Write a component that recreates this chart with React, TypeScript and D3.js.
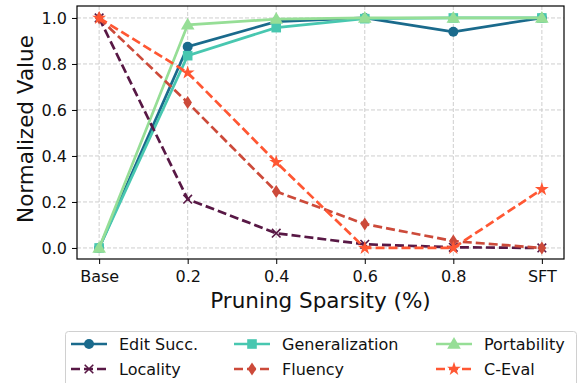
import React, { useEffect, useRef } from 'react';
import * as d3 from 'd3';

const categories = ['Base', '0.2', '0.4', '0.6', '0.8', 'SFT'];
const yTicks = [0, 0.2, 0.4, 0.6, 0.8, 1.0];

const editSucc = [0.0, 0.875, 0.984, 1.0, 0.94, 1.0];
const generalization = [0.0, 0.836, 0.958, 0.997, 1.0, 1.0];
const portability = [0.0, 0.97, 0.995, 1.0, 1.0, 1.0];
const locality = [1.0, 0.212, 0.064, 0.016, 0.003, 0.0];
const fluency = [1.0, 0.632, 0.245, 0.104, 0.03, 0.0];
const cEval = [1.0, 0.762, 0.373, 0.0, 0.0, 0.255];

type Series = { name: string; values: number[]; color: string; marker: string; dashed: boolean };

const series: Series[] = [
  { name: 'Edit Succ.', values: editSucc, color: '#1a6a8c', marker: 'circle', dashed: false },
  { name: 'Generalization', values: generalization, color: '#48c7b0', marker: 'square', dashed: false },
  { name: 'Portability', values: portability, color: '#96de96', marker: 'triangle', dashed: false },
  { name: 'Locality', values: locality, color: '#581845', marker: 'x', dashed: true },
  { name: 'Fluency', values: fluency, color: '#cc4a3a', marker: 'diamond', dashed: true },
  { name: 'C-Eval', values: cEval, color: '#ff5733', marker: 'star', dashed: true },
];

function drawMarker(g: any, type: string, x: number, y: number, color: string) {
  if (type === 'circle') {
    g.append('circle').attr('cx', x).attr('cy', y).attr('r', 5).attr('fill', color);
  } else if (type === 'square') {
    g.append('rect').attr('x', x - 4.8).attr('y', y - 4.8).attr('width', 9.6).attr('height', 9.6).attr('fill', color);
  } else if (type === 'triangle') {
    g.append('path').attr('d', d3.symbol(d3.symbolTriangle, 80)()).attr('transform', `translate(${x},${y + 0.8})`).attr('fill', color);
  } else if (type === 'diamond') {
    g.append('path').attr('d', `M${x},${y - 6.5}L${x + 4.3},${y}L${x},${y + 6.5}L${x - 4.3},${y}Z`).attr('fill', color);
  } else if (type === 'star') {
    g.append('path').attr('d', d3.symbol(d3.symbolStar, 60)()).attr('transform', `translate(${x},${y})`).attr('fill', color);
  } else if (type === 'x') {
    g.append('path').attr('d', `M${x - 4.3},${y - 4.3}L${x + 4.3},${y + 4.3}M${x - 4.3},${y + 4.3}L${x + 4.3},${y - 4.3}`)
      .attr('stroke', color).attr('stroke-width', 1.6).attr('fill', 'none');
  }
}

export default function App() {
  const svgRef = useRef<SVGSVGElement>(null);

  useEffect(() => {
    const svg = d3.select(svgRef.current);
    svg.selectAll('*').remove();

    const left = 77, right = 564, top = 6, bottom = 259;
    const font = 'DejaVu Sans';

    const xScale = d3.scaleLinear().domain([-0.25, 5.25]).range([left, right]);
    const yScale = d3.scaleLinear().domain([-0.048, 1.052]).range([bottom, top]);

    // grid
    const grid = svg.append('g');
    categories.forEach((_, i) => {
      grid.append('line').attr('x1', xScale(i)).attr('x2', xScale(i)).attr('y1', top).attr('y2', bottom)
        .attr('stroke', '#c8c8c8').attr('stroke-width', 0.9).attr('stroke-dasharray', '4,2');
    });
    yTicks.forEach(t => {
      grid.append('line').attr('x1', left).attr('x2', right).attr('y1', yScale(t)).attr('y2', yScale(t))
        .attr('stroke', '#c8c8c8').attr('stroke-width', 0.9).attr('stroke-dasharray', '4,2');
    });

    // lines
    const line = d3.line<number>().x((_, i) => xScale(i)).y(d => yScale(d));
    series.forEach(s => {
      svg.append('path').datum(s.values).attr('d', line).attr('fill', 'none')
        .attr('stroke', s.color).attr('stroke-width', 2.7)
        .attr('stroke-dasharray', s.dashed ? '9,4' : null);
      const mg = svg.append('g');
      s.values.forEach((v, i) => drawMarker(mg, s.marker, xScale(i), yScale(v), s.color));
    });

    // frame
    svg.append('rect').attr('x', left).attr('y', top).attr('width', right - left).attr('height', bottom - top)
      .attr('fill', 'none').attr('stroke', '#000').attr('stroke-width', 1.2);

    // x axis
    const xAxis = svg.append('g').attr('transform', `translate(0,${bottom})`)
      .call(d3.axisBottom(xScale).tickValues(d3.range(categories.length)).tickFormat((d: any) => categories[d]).tickSize(5).tickPadding(7));
    xAxis.select('.domain').remove();
    xAxis.selectAll('text').attr('font-size', 16).attr('fill', '#111').attr('font-family', font);

    // y axis
    const yAxis = svg.append('g').attr('transform', `translate(${left},0)`)
      .call(d3.axisLeft(yScale).tickValues(yTicks).tickFormat(d3.format('.1f')).tickSize(5).tickPadding(5));
    yAxis.select('.domain').remove();
    yAxis.selectAll('text').attr('font-size', 16).attr('fill', '#111').attr('font-family', font);

    svg.append('text').attr('x', (left + right) / 2).attr('y', 308).attr('text-anchor', 'middle')
      .attr('font-size', 21.5).attr('font-family', font).attr('fill', '#111').text('Pruning Sparsity (%)');
    svg.append('text').attr('transform', `translate(33,129) rotate(-90)`).attr('text-anchor', 'middle')
      .attr('font-size', 21.5).attr('font-family', font).attr('fill', '#111').text('Normalized Value');

    // legend
    const lg = svg.append('g');
    lg.append('rect').attr('x', 65.5).attr('y', 331.5).attr('width', 511).attr('height', 60).attr('rx', 3)
      .attr('fill', '#fff').attr('stroke', '#d0d0d0').attr('stroke-width', 1);
    const colX = [71, 234, 436];
    const rowY = [344, 369];
    series.forEach((s, i) => {
      const cx = colX[i % 3];
      const cy = rowY[Math.floor(i / 3)];
      lg.append('line').attr('x1', cx).attr('x2', cx + 36).attr('y1', cy).attr('y2', cy)
        .attr('stroke', s.color).attr('stroke-width', 2.7).attr('stroke-dasharray', s.dashed ? '9,4' : null);
      drawMarker(lg, s.marker, cx + 18, cy, s.color);
      lg.append('text').attr('x', cx + 48).attr('y', cy + 6).attr('font-size', 16)
        .attr('font-family', font).attr('fill', '#111').text(s.name);
    });
  }, []);

  return (
    <div style={{ position: 'absolute', left: 0, top: 0 }}>
      <svg ref={svgRef} width={582} height={383} style={{ display: 'block' }}></svg>
    </div>
  );
}
